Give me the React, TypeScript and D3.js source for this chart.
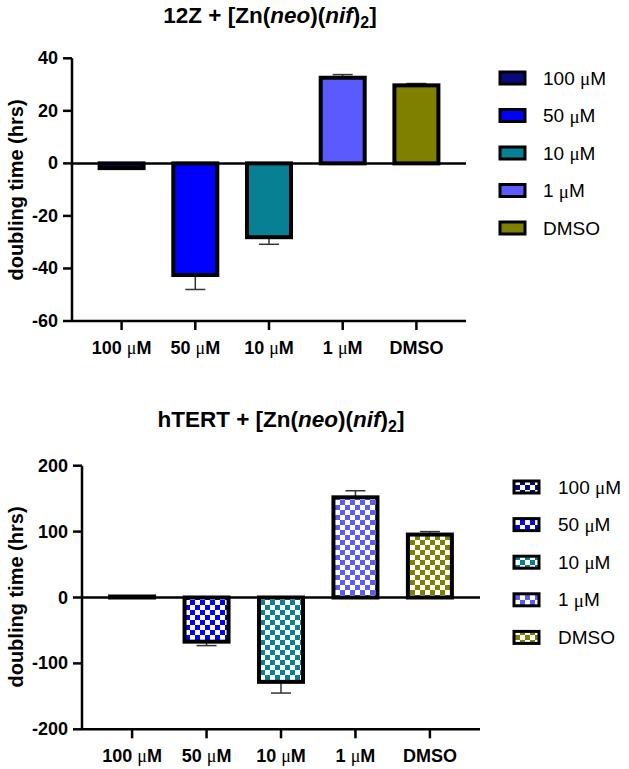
import React from "react";
import * as d3 from "d3";

const categories = ["100 μM", "50 μM", "10 μM", "1 μM", "DMSO"];
const colors = ["#0a0a80", "#0000ff", "#088094", "#5a5aff", "#808000"];
const topValues = [-1.8, -42.5, -28.1, 32.6, 29.7];
const topErrors = [0.3, 5.5, 2.7, 1.2, 0.7];
const topTicks = [40, 20, 0, -20, -40, -60];
const bottomValues = [1.5, -67, -128, 152, 95.5];
const bottomErrors = [0.5, 6, 17, 10, 4.5];
const bottomTicks = [200, 100, 0, -100, -200];

const FONT = "'Liberation Sans', Arial, Helvetica, sans-serif";
const MU_FONT = "'Liberation Serif', 'DejaVu Serif', serif";

function Label({ text, x, y, size, weight, anchor }: any) {
  const parts = text.split("μ");
  return (
    <text x={x} y={y} fontSize={size} fontWeight={weight} textAnchor={anchor} fontFamily={FONT} dominantBaseline="central">
      {parts.length > 1 ? (
        <>
          {parts[0]}
          <tspan fontFamily={MU_FONT} fontWeight="normal">μ</tspan>
          {parts[1]}
        </>
      ) : (
        text
      )}
    </text>
  );
}

function Panel({ title, values, errors, ticks, domain, yRange, xRange, legendX, legendY, legendStep, textX, patterned, titleX, titleY, labelY }: any) {
  const y = d3.scaleLinear().domain(domain).range(yRange);
  const x = d3.scalePoint<string>().domain(categories).range(xRange).padding(0.673);
  const barW = 44;
  const axisX = xRange[0];
  const endX = xRange[1];
  const fill = (i: number) => (patterned ? `url(#chk${i})` : colors[i]);
  return (
    <g>
      <text x={titleX} y={titleY} fontSize={22.5} fontWeight="bold" fontFamily={FONT} textAnchor="middle">
        {title}
        <tspan> + [Zn(</tspan>
        <tspan fontStyle="italic">neo</tspan>
        <tspan>)(</tspan>
        <tspan fontStyle="italic">nif</tspan>
        <tspan>)</tspan>
        <tspan fontSize={16} dy={5}>2</tspan>
        <tspan dy={-5}>]</tspan>
      </text>
      <text
        transform={`translate(16,${labelY}) rotate(-90)`}
        fontSize={20}
        fontWeight="bold"
        fontFamily={FONT}
        textAnchor="middle"
        dominantBaseline="central"
      >
        doubling time (hrs)
      </text>
      {values.map((v: number, i: number) => {
        const cx = x(categories[i])!;
        const y0 = y(0);
        const y1 = y(v);
        const top = Math.min(y0, y1);
        const h = Math.abs(y1 - y0);
        const eEnd = y(v + Math.sign(v) * errors[i]);
        return (
          <g key={i}>
            <line x1={cx} x2={cx} y1={y1} y2={eEnd} stroke="#333" strokeWidth={1.5} />
            <line x1={cx - 10} x2={cx + 10} y1={eEnd} y2={eEnd} stroke="#333" strokeWidth={1.5} />
            <rect x={cx - barW / 2} y={top} width={barW} height={Math.max(h, 0.5)} fill={fill(i)} stroke="#000" strokeWidth={4} />
          </g>
        );
      })}
      <line x1={axisX} x2={axisX} y1={y(domain[1])} y2={y(domain[0])} stroke="#000" strokeWidth={2.5} />
      <line x1={axisX} x2={endX} y1={y(0)} y2={y(0)} stroke="#000" strokeWidth={2.5} />
      <line x1={axisX} x2={endX} y1={y(domain[0])} y2={y(domain[0])} stroke="#000" strokeWidth={2.5} />
      {ticks.map((t: number) => (
        <g key={t}>
          <line x1={axisX - 9} x2={axisX} y1={y(t)} y2={y(t)} stroke="#000" strokeWidth={2.5} />
          <text x={axisX - 14} y={y(t)} fontSize={18} fontWeight="bold" fontFamily={FONT} textAnchor="end" dominantBaseline="central">
            {t}
          </text>
        </g>
      ))}
      {categories.map((c, i) => (
        <g key={c}>
          <line x1={x(c)} x2={x(c)} y1={y(domain[0])} y2={y(domain[0]) + 9} stroke="#000" strokeWidth={2.5} />
          <Label text={c} x={x(c)} y={y(domain[0]) + 27} size={18} weight="bold" anchor="middle" />
        </g>
      ))}
      {categories.map((c, i) => (
        <g key={"l" + c}>
          <rect x={legendX} y={legendY + i * legendStep - 6} width={25} height={12} fill={fill(i)} stroke="#000" strokeWidth={3} />
          <Label text={c} x={textX} y={legendY + i * legendStep} size={19} weight="normal" anchor="start" />
        </g>
      ))}
    </g>
  );
}

export default function App() {
  return (
    <svg width={629} height={769} style={{ position: "absolute", left: 0, top: 0, background: "#fff" }}>
      <defs>
        {colors.map((c, i) => (
          <pattern key={i} id={`chk${i}`} patternUnits="userSpaceOnUse" width={10} height={10}>
            <rect width={10} height={10} fill="#fff" />
            <rect width={5} height={5} fill={c} />
            <rect x={5} y={5} width={5} height={5} fill={c} />
          </pattern>
        ))}
      </defs>
      <rect width={629} height={769} fill="#fff" />
      <Panel
        title="12Z"
        values={topValues}
        errors={topErrors}
        ticks={topTicks}
        domain={[-60, 40]}
        yRange={[321, 58.3]}
        xRange={[72, 466]}
        legendX={500}
        legendY={78}
        legendStep={37.5}
        textX={543}
        patterned={false}
        titleX={270}
        titleY={23}
        labelY={190}
      />
      <Panel
        title="hTERT"
        values={bottomValues}
        errors={bottomErrors}
        ticks={bottomTicks}
        domain={[-200, 200]}
        yRange={[729.3, 465.7]}
        xRange={[82, 480]}
        legendX={514}
        legendY={487}
        legendStep={37.6}
        textX={558}
        patterned={true}
        titleX={281}
        titleY={427}
        labelY={597}
      />
    </svg>
  );
}
